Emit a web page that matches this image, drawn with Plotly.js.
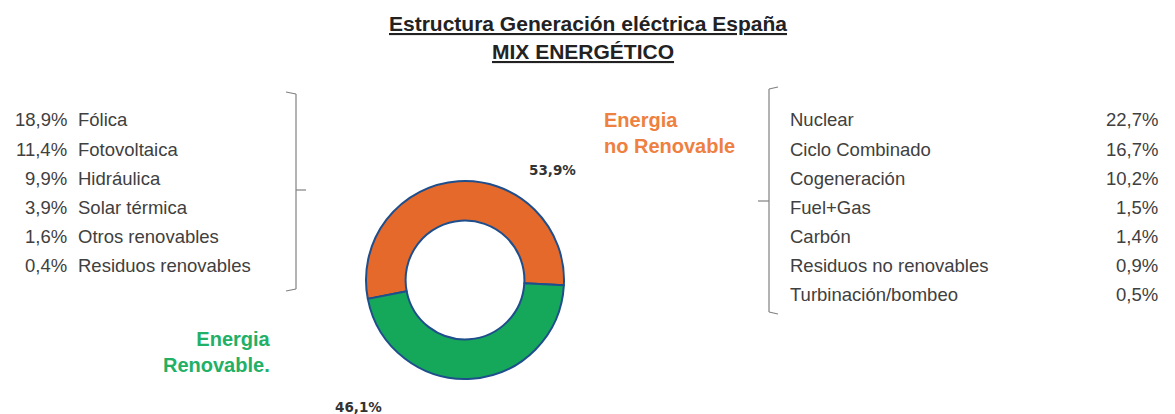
<!DOCTYPE html>
<html>
<head>
<meta charset="utf-8">
<script src="https://cdn.plot.ly/plotly-3.0.1.min.js"></script>
<style>html,body{margin:0;padding:0;background:#fff;}#chart{width:1175px;height:414px;}</style>
</head>
<body>
<div id="chart"></div>
<script>
// ---- data ----
const groups = ["Energia no Renovable", "Energia Renovable"];
const groupValues = [53.9, 46.1];

const renewNames = ["Fólica", "Fotovoltaica", "Hidráulica", "Solar térmica", "Otros renovables", "Residuos renovables"];
const renewValues = [18.9, 11.4, 9.9, 3.9, 1.6, 0.4];

const nonRenewNames = ["Nuclear", "Ciclo Combinado", "Cogeneración", "Fuel+Gas", "Carbón", "Residuos no renovables", "Turbinación/bombeo"];
const nonRenewValues = [22.7, 16.7, 10.2, 1.5, 1.4, 0.9, 0.5];

const titleLines = ["Estructura Generación eléctrica España", "MIX ENERGÉTICO"];

// ---- helpers ----
const W = 1175, H = 414;
const fmt = v => v.toFixed(1).replace('.', ',') + '%';
const px = x => x / W;
const py = y => 1 - y / H;

const orange = '#E5692A';
const green = '#15A85A';
const textGray = '#404040';
const ARIAL = 'Arial, Liberation Sans, sans-serif';

const trace = {
  type: 'pie',
  values: groupValues,
  labels: groups,
  sort: false,
  direction: 'clockwise',
  rotation: -101,
  hole: 0.6,
  textinfo: 'none',
  hoverinfo: 'label+percent',
  showlegend: false,
  marker: { colors: [orange, green], line: { color: '#1F4E8C', width: 2 } },
  domain: { x: [px(366), px(564)], y: [py(380), py(180)] }
};

const annotations = [];
function txt(x, y, text, opts) {
  annotations.push(Object.assign({
    xref: 'paper', yref: 'paper', x: px(x), y: py(y), text: text,
    showarrow: false, xanchor: 'left', yanchor: 'middle',
    font: { family: ARIAL, size: 18.5, color: textGray }
  }, opts || {}));
}

// title
txt(588, 23, '<b><u>' + titleLines[0] + '</u></b>', { xanchor: 'center', font: { family: ARIAL, size: 21, color: '#222' } });
txt(583, 51, '<b><u>' + titleLines[1] + '</u></b>', { xanchor: 'center', font: { family: ARIAL, size: 21, color: '#222' } });

// renewable list
const rowY0 = 120, rowDy = 29;
renewNames.forEach((n, i) => {
  const y = rowY0 + i * rowDy;
  txt(69, y, fmt(renewValues[i]), { xanchor: 'right' });
  txt(76, y, n);
});

// non-renewable list
nonRenewNames.forEach((n, i) => {
  const y = rowY0 + i * rowDy;
  txt(788, y, n);
  txt(1160, y, fmt(nonRenewValues[i]), { xanchor: 'right' });
});

// group labels
txt(602, 133, '<b>Energia<br>no Renovable</b>', { align: 'left', font: { family: ARIAL, size: 20, color: '#EE8040' } });
txt(273, 352, '<b>Energia<br>Renovable.</b>', { xanchor: 'right', align: 'right', font: { family: ARIAL, size: 20, color: '#22B066' } });

// percentages of groups
txt(552, 170, '<b>' + fmt(groupValues[0]) + '</b>', { xanchor: 'center', font: { family: 'Verdana, DejaVu Sans, sans-serif', size: 13.5, color: '#333' } });
txt(358, 407, '<b>' + fmt(groupValues[1]) + '</b>', { xanchor: 'center', font: { family: 'Verdana, DejaVu Sans, sans-serif', size: 13.5, color: '#333' } });

// brackets
const bc = '#808080';
function seg(x0, y0, x1, y1) {
  return { type: 'line', xref: 'paper', yref: 'paper', x0: px(x0), y0: py(y0), x1: px(x1), y1: py(y1), line: { color: bc, width: 1.2 } };
}
const shapes = [
  seg(286, 92, 296, 94), seg(296, 94, 296, 289), seg(296, 289, 286, 291), seg(296, 190, 306, 190),
  seg(778, 87, 769, 89), seg(769, 89, 769, 312), seg(769, 312, 778, 314), seg(769, 201, 758, 201)
];

const layout = {
  width: W, height: H,
  margin: { l: 0, r: 0, t: 0, b: 0 },
  paper_bgcolor: '#fff', plot_bgcolor: '#fff',
  annotations: annotations,
  shapes: shapes
};

Plotly.newPlot('chart', [trace], layout, { displayModeBar: false, staticPlot: true });
</script>
</body>
</html>
